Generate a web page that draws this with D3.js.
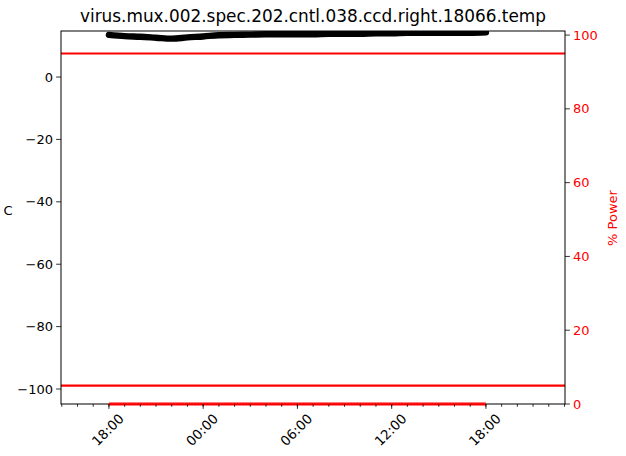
<!DOCTYPE html>
<html>
<head>
<meta charset="utf-8">
<script src="https://cdn.jsdelivr.net/npm/d3@7"></script>
<style>
  html, body { margin: 0; padding: 0; background: #fff; }
  svg { display: block; font-family: "DejaVu Sans", sans-serif; }
</style>
</head>
<body>
<svg id="chart" width="626" height="456"></svg>
<script>
// ---- data ----
const title = "virus.mux.002.spec.202.cntl.038.ccd.right.18066.temp";
const xDomain = ["2023-01-01T14:57", "2023-01-02T23:02"];
const times = [
  "2023-01-01T18:00","2023-01-01T19:00","2023-01-01T20:00","2023-01-01T21:00",
  "2023-01-01T22:00","2023-01-01T23:00","2023-01-02T00:00","2023-01-02T01:00",
  "2023-01-02T02:00","2023-01-02T03:00","2023-01-02T04:00","2023-01-02T05:00",
  "2023-01-02T06:00","2023-01-02T07:00","2023-01-02T08:00","2023-01-02T09:00",
  "2023-01-02T10:00","2023-01-02T11:00","2023-01-02T12:00","2023-01-02T13:00",
  "2023-01-02T14:00","2023-01-02T15:00","2023-01-02T16:00","2023-01-02T17:00",
  "2023-01-02T18:00"
];
const tempC = [13.5,13.1,12.9,12.6,12.3,12.7,13.0,13.4,13.5,13.6,13.7,13.7,
               13.7,13.7,13.85,13.85,13.85,14.0,14.0,14.15,14.15,14.15,14.15,14.15,14.3];
const powerPct = [0,0,0,0,0,0,0,0,0,0,0,0,0,0,0,0,0,0,0,0,0,0,0,0,0];
const powerLimits = [5, 95];
const leftDomain = [-104.8, 14.75];
const rightDomain = [0, 101.1];
const leftTicks = [0, -20, -40, -60, -80, -100];
const rightTicks = [0, 20, 40, 60, 80, 100];
const majorTickTimes = ["2023-01-01T18:00","2023-01-02T00:00","2023-01-02T06:00","2023-01-02T12:00","2023-01-02T18:00"];

// ---- layout ----
const svg = d3.select("#chart");
const L = 61, R = 565, T = 31, B = 404;
const parse = d3.utcParse("%Y-%m-%dT%H:%M");
const fmt = d3.utcFormat("%H:%M");

const x = d3.scaleUtc().domain(xDomain.map(parse)).range([L, R]);
const yL = d3.scaleLinear().domain(leftDomain).range([B, T]);
const yR = d3.scaleLinear().domain(rightDomain).range([B, T]);

svg.append("defs").append("clipPath").attr("id", "plot")
  .append("rect").attr("x", L).attr("y", T).attr("width", R - L).attr("height", B - T);

const tempData = times.map((t, i) => ({ t: parse(t), v: tempC[i] }));
const powData = times.map((t, i) => ({ t: parse(t), v: powerPct[i] }));

// temperature line
svg.append("path")
  .datum(tempData)
  .attr("clip-path", "url(#plot)")
  .attr("fill", "none")
  .attr("stroke", "#000")
  .attr("stroke-width", 6.4)
  .attr("stroke-linejoin", "round")
  .attr("stroke-linecap", "round")
  .attr("d", d3.line().x(d => x(d.t)).y(d => yL(d.v)).curve(d3.curveMonotoneX));

// limit lines (right axis)
svg.selectAll("line.limit").data(powerLimits).enter().append("line")
  .attr("class", "limit")
  .attr("x1", L).attr("x2", R)
  .attr("y1", d => yR(d)).attr("y2", d => yR(d))
  .attr("stroke", "#ff0000").attr("stroke-width", 2.2);

// spines
svg.append("rect").attr("x", L).attr("y", T).attr("width", R - L).attr("height", B - T)
  .attr("fill", "none").attr("stroke", "#000").attr("stroke-width", 1);

// power data
svg.append("path")
  .datum(powData)
  .attr("fill", "none")
  .attr("stroke", "#ff0000")
  .attr("stroke-width", 3.2)
  .attr("d", d3.line().x(d => x(d.t)).y(d => yR(d.v)));
svg.append("path")
  .datum(powData)
  .attr("fill", "none")
  .attr("stroke", "#f08080")
  .attr("stroke-width", 0.8)
  .attr("stroke-dasharray", "1.5,1.5")
  .attr("d", d3.line().x(d => x(d.t)).y(d => yR(d.v) - 1.2));

// x axis: minor ticks hourly, major every 6h
const xAxisG = svg.append("g").attr("transform", `translate(0,${B})`);
const minor = d3.utcHour.range(x.domain()[0], x.domain()[1]);
xAxisG.selectAll("line.minor").data(minor).enter().append("line")
  .attr("x1", d => x(d)).attr("x2", d => x(d)).attr("y1", 0).attr("y2", 2.8)
  .attr("stroke", "#000").attr("stroke-width", 0.8);
const majors = majorTickTimes.map(parse);
xAxisG.selectAll("line.major").data(majors).enter().append("line")
  .attr("x1", d => x(d)).attr("x2", d => x(d)).attr("y1", 0).attr("y2", 4.9)
  .attr("stroke", "#000").attr("stroke-width", 0.8);
xAxisG.selectAll("text").data(majors).enter().append("text")
  .attr("transform", d => `translate(${x(d) - 1},${26}) rotate(-45)`)
  .attr("text-anchor", "middle").attr("dominant-baseline", "central")
  .attr("font-size", 13.3).attr("fill", "#000")
  .text(d => fmt(d));

// left axis
const yLG = svg.append("g").attr("transform", `translate(${L},0)`);
yLG.selectAll("line").data(leftTicks).enter().append("line")
  .attr("x1", -4.9).attr("x2", 0).attr("y1", d => yL(d)).attr("y2", d => yL(d))
  .attr("stroke", "#000").attr("stroke-width", 0.8);
yLG.selectAll("text").data(leftTicks).enter().append("text")
  .attr("x", -8).attr("y", d => yL(d)).attr("dy", "0.35em")
  .attr("text-anchor", "end").attr("font-size", 13).attr("fill", "#000")
  .text(d => d3.format("")(d).replace("-", "\u2212"));

// right axis
const yRG = svg.append("g").attr("transform", `translate(${R},0)`);
yRG.selectAll("line").data(rightTicks).enter().append("line")
  .attr("x1", 0).attr("x2", 4.9).attr("y1", d => yR(d)).attr("y2", d => yR(d))
  .attr("stroke", "#000").attr("stroke-width", 0.8);
yRG.selectAll("text").data(rightTicks).enter().append("text")
  .attr("x", 8).attr("y", d => yR(d)).attr("dy", "0.35em")
  .attr("text-anchor", "start").attr("font-size", 13).attr("fill", "#ff0000")
  .text(d => d);

// labels
svg.append("text").attr("x", 8).attr("y", 210).attr("dy", "0.35em")
  .attr("text-anchor", "middle").attr("font-size", 13).attr("fill", "#000").text("C");
svg.append("text").attr("transform", `translate(612,218) rotate(-90)`)
  .attr("text-anchor", "middle").attr("dominant-baseline", "central")
  .attr("font-size", 13).attr("fill", "#ff0000").text("% Power");
svg.append("text").attr("x", (L + R) / 2).attr("y", 22)
  .attr("text-anchor", "middle").attr("font-size", 16.9).attr("fill", "#000").text(title);
</script>
</body>
</html>
